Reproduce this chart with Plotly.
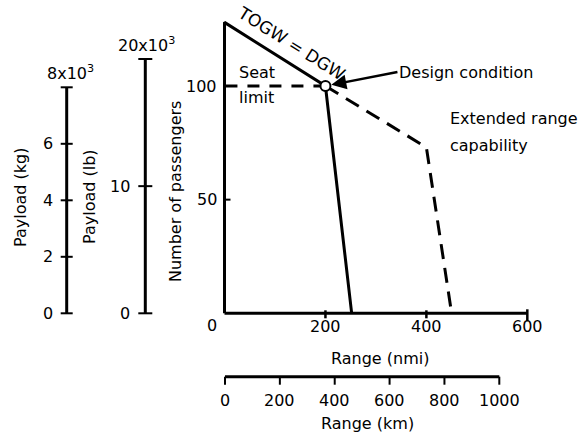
import plotly.graph_objects as go

W, H = 587, 438

# ---- data -------------------------------------------------------------
# payload-range envelope (range in nmi, number of passengers)
envelope_nmi = [0, 0, 200, 252]
envelope_pax = [0, 128, 100, 0]
seat_limit_nmi = [0, 200]
seat_limit_pax = [100, 100]
extended_nmi = [200, 400, 450]
extended_pax = [100, 73, 0]
design_nmi = [200]
design_pax = [100]

nmi_ticks = [200, 400, 600]
nmi_labels = ["200", "400", "600"]
pax_ticks = [50, 100]
pax_labels = ["50", "100"]
km_ticks = [0, 200, 400, 600, 800, 1000]
km_labels = ["0", "200", "400", "600", "800", "1000"]
kg_ticks = [0, 2000, 4000, 6000, 8000]
kg_labels = ["0", "2", "4", "6", "8x10<sup>3</sup>"]
lb_ticks = [0, 10000, 20000]
lb_labels = ["0", "10", "20x10<sup>3</sup>"]

# ---- scale geometry (pixels) ------------------------------------------
NMI_X0, NMI_PX = 224.5, 0.5047      # x pixel of 0 nmi, pixels per nmi
BASE_Y = 313.3                      # y pixel of the zero line for all vertical scales
PAX_PX = 2.273                      # pixels per passenger
KM_X0, KM_PX = 225.0, 0.2743        # x pixel of 0 km, pixels per km
KM_AXIS_Y = 376.7
KG_PX = 0.02825                     # pixels per kg
LB_PX = 0.012715                    # pixels per lb
KG_AXIS_X = 66.7
LB_AXIS_X = 145.3

FONT = dict(family="DejaVu Sans", size=16, color="black")
LW = 3


def pxx(x):
    return x / W


def pxy(y):
    return 1 - y / H


def note(**kw):
    base = dict(showarrow=False, xanchor="center", yanchor="middle", font=FONT)
    base.update(kw)
    return base


fig = go.Figure()

fig.add_trace(go.Scatter(x=envelope_nmi, y=envelope_pax, mode="lines",
                         line=dict(color="black", width=LW), showlegend=False))
# seat limit drawn from the design point back toward the axis so the dash
# pattern starts at the design point
fig.add_trace(go.Scatter(x=seat_limit_nmi[::-1], y=seat_limit_pax[::-1], mode="lines",
                         line=dict(color="black", width=LW, dash="12px,10px"),
                         showlegend=False))
fig.add_trace(go.Scatter(x=extended_nmi, y=extended_pax, mode="lines",
                         line=dict(color="black", width=LW, dash="15px,9px"),
                         showlegend=False))
fig.add_trace(go.Scatter(x=design_nmi, y=design_pax, mode="markers",
                         marker=dict(symbol="circle", size=10, color="white",
                                     line=dict(color="black", width=2)),
                         showlegend=False))

shapes = []
ann = []

# main range axis (nmi)
shapes.append(dict(type="line", xref="x", yref="y", x0=0, x1=nmi_ticks[-1], y0=0, y1=0,
                   line=dict(color="black", width=LW)))
for v in nmi_ticks:
    lo, hi = (-8, 4) if v == nmi_ticks[-1] else (-5, 3)
    shapes.append(dict(type="line", xref="x", yref="y", ysizemode="pixel", yanchor=0,
                       x0=v, x1=v, y0=lo, y1=hi, line=dict(color="black", width=2.5)))
for v, t in zip(nmi_ticks, nmi_labels):
    ann.append(note(xref="x", yref="y", x=v, y=0, text=t, yshift=-13))
ann.append(note(xref="x", yref="y", x=0, y=0, text="0", xshift=-13, yshift=-12))
ann.append(note(xref="paper", yref="paper", x=pxx(380), y=pxy(358), text="Range (nmi)"))

# passengers axis ticks (line itself is the envelope's left edge)
for v, t in zip(pax_ticks, pax_labels):
    shapes.append(dict(type="line", xref="x", yref="y", xsizemode="pixel", xanchor=0,
                       x0=0, x1=6, y0=v, y1=v, line=dict(color="black", width=2)))
    ann.append(note(xref="x", yref="y", x=0, y=v, text=t, xanchor="right", xshift=-6))
ann.append(note(xref="paper", yref="paper", x=pxx(175), y=pxy(192),
                text="Number of passengers", textangle=-90))

# km axis
shapes.append(dict(type="line", xref="x2", yref="paper", x0=km_ticks[0], x1=km_ticks[-1],
                   y0=pxy(KM_AXIS_Y), y1=pxy(KM_AXIS_Y), line=dict(color="black", width=LW)))
for v in km_ticks:
    shapes.append(dict(type="line", xref="x2", yref="paper", x0=v, x1=v,
                       y0=pxy(KM_AXIS_Y), y1=pxy(KM_AXIS_Y + 8),
                       line=dict(color="black", width=2)))
for v, t in zip(km_ticks, km_labels):
    ann.append(note(xref="x2", yref="paper", x=v, y=pxy(400), text=t))
ann.append(note(xref="paper", yref="paper", x=pxx(367), y=pxy(423), text="Range (km)"))

# payload (kg) axis
shapes.append(dict(type="line", xref="paper", yref="y2", x0=pxx(KG_AXIS_X), x1=pxx(KG_AXIS_X),
                   y0=kg_ticks[0], y1=kg_ticks[-1], line=dict(color="black", width=LW)))
for v in kg_ticks:
    shapes.append(dict(type="line", xref="paper", yref="y2", xsizemode="pixel",
                       xanchor=pxx(KG_AXIS_X), x0=-6, x1=6, y0=v, y1=v,
                       line=dict(color="black", width=2)))
for v, t in zip(kg_ticks[:-1], kg_labels[:-1]):
    ann.append(note(xref="paper", yref="y2", x=pxx(55), y=v, text=t, xanchor="right"))
ann.append(note(xref="paper", yref="y2", x=pxx(70.5), y=kg_ticks[-1], text=kg_labels[-1],
                yanchor="bottom", yshift=2))
ann.append(note(xref="paper", yref="paper", x=pxx(20), y=pxy(198), text="Payload (kg)",
                textangle=-90))

# payload (lb) axis
shapes.append(dict(type="line", xref="paper", yref="y3", x0=pxx(LB_AXIS_X), x1=pxx(LB_AXIS_X),
                   y0=lb_ticks[0], y1=lb_ticks[-1], line=dict(color="black", width=LW)))
for v in lb_ticks:
    shapes.append(dict(type="line", xref="paper", yref="y3", xsizemode="pixel",
                       xanchor=pxx(LB_AXIS_X), x0=-7, x1=7, y0=v, y1=v,
                       line=dict(color="black", width=2)))
for v, t in zip(lb_ticks[:-1], lb_labels[:-1]):
    ann.append(note(xref="paper", yref="y3", x=pxx(131.5), y=v, text=t, xanchor="right"))
ann.append(note(xref="paper", yref="y3", x=pxx(146.5), y=lb_ticks[-1], text=lb_labels[-1],
                yanchor="bottom", yshift=2))
ann.append(note(xref="paper", yref="paper", x=pxx(90), y=pxy(197), text="Payload (lb)",
                textangle=-90))

# chart notes
ann.append(note(xref="paper", yref="paper", x=pxx(291), y=pxy(43), text="TOGW = DGW",
                textangle=32, font=dict(FONT, size=17)))
ann.append(note(xref="paper", yref="paper", x=pxx(237), y=pxy(73), text="Seat",
                xanchor="left"))
ann.append(note(xref="paper", yref="paper", x=pxx(237), y=pxy(98), text="limit",
                xanchor="left"))
ann.append(note(xref="x", yref="y", x=design_nmi[0], y=design_pax[0], text="Design condition",
                xanchor="left", ax=72, ay=-14, showarrow=True,
                arrowhead=2, arrowsize=1.2, arrowwidth=2.5, arrowcolor="black",
                standoff=6))
ann.append(note(xref="paper", yref="paper", x=pxx(448), y=pxy(118), text="Extended range",
                xanchor="left"))
ann.append(note(xref="paper", yref="paper", x=pxx(448), y=pxy(145), text="capability",
                xanchor="left"))

hidden = dict(visible=False, fixedrange=True)
fig.update_layout(
    width=W, height=H,
    margin=dict(l=0, r=0, t=0, b=0),
    paper_bgcolor="white", plot_bgcolor="white",
    showlegend=False,
    xaxis=dict(hidden, domain=[0, 1], range=[-NMI_X0 / NMI_PX, (W - NMI_X0) / NMI_PX]),
    yaxis=dict(hidden, domain=[0, 1], range=[-(H - BASE_Y) / PAX_PX, BASE_Y / PAX_PX]),
    xaxis2=dict(hidden, overlaying="x", range=[-KM_X0 / KM_PX, (W - KM_X0) / KM_PX]),
    yaxis2=dict(hidden, overlaying="y", range=[-(H - BASE_Y) / KG_PX, BASE_Y / KG_PX]),
    yaxis3=dict(hidden, overlaying="y", range=[-(H - BASE_Y) / LB_PX, BASE_Y / LB_PX]),
    shapes=shapes,
    annotations=ann,
)

fig.write_html("out.html")
